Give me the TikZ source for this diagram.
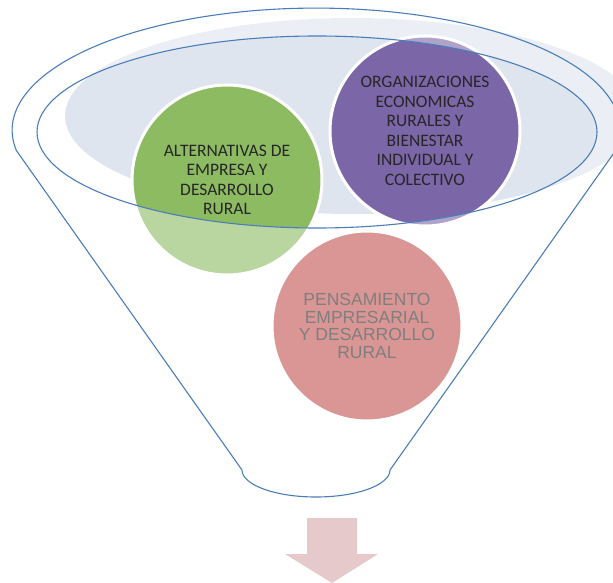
\documentclass[tikz,border=0pt]{standalone}
\usepackage{fontspec}
\newfontfamily\calibf{Carlito}
\newfontfamily\arialf{Liberation Sans}
\definecolor{greyfill}{HTML}{DFE5EF}
\definecolor{greenc}{HTML}{8DBB62}
\definecolor{purplec}{HTML}{7B66A8}
\definecolor{pinkc}{HTML}{D99694}
\definecolor{funnelblue}{HTML}{4A7EBB}
\definecolor{arrowpink}{HTML}{E6C9CB}
\definecolor{darktext}{HTML}{262626}
\definecolor{greytext}{HTML}{7F7F7F}
\tikzset{
  bubble/.style={circle, draw=white, line width=3pt, minimum size=190pt, inner sep=0pt},
  funnelline/.style={draw=funnelblue, line width=1.1pt},
  darklabel/.style={align=center, text=darktext, font=\calibf\fontsize{17.5}{19.5}\selectfont, inner sep=0pt},
  greylabel/.style={align=center, text=greytext, font=\arialf\fontsize{17.5}{17.7}\selectfont, inner sep=0pt}
}
\begin{document}
\begin{tikzpicture}[x=1pt,y=-1pt]
\useasboundingbox (0,0) rectangle (613,583);
% background grey ellipse
\fill[greyfill] (352,116) ellipse[x radius=287pt, y radius=98pt];
% green and purple circles
\node[bubble, fill=greenc] (alt) at (227,180) {};
\node[bubble, fill=purplec] (org) at (425,131) {};
% lighten everything outside the funnel rim
\fill[white, opacity=0.4, even odd rule] (-5,-5) rectangle (620,590) (317,132) ellipse[x radius=280pt, y radius=96pt];
% rim
\draw[funnelline] (317,132) ellipse[x radius=280pt, y radius=96pt];
% funnel outline
\draw[funnelline, line join=round] (16,150) -- (242,470)
  arc[start angle=180, end angle=360, x radius=74pt, y radius=27pt]
  -- (616,150)
  arc[start angle=-9.4, end angle=189.4, x radius=304pt, y radius=122pt] -- cycle;
% pink circle
\node[bubble, fill=pinkc] (pen) at (367,326) {};
% labels
\node[darklabel] (altlabel) at (alt.center) {ALTERNATIVAS DE\\EMPRESA Y\\DESARROLLO\\RURAL};
\node[darklabel] (orglabel) at (org.center) {ORGANIZACIONES\\ECONOMICAS\\RURALES Y\\BIENESTAR\\INDIVIDUAL Y\\COLECTIVO};
\node[greylabel] (penlabel) at (pen.center) {PENSAMIENTO\\EMPRESARIAL\\Y DESARROLLO\\RURAL};
% down arrow
\fill[arrowpink] (307,518) -- (357,518) -- (357,554) -- (378,554) -- (332,583) -- (285,554) -- (307,554) -- cycle;
\end{tikzpicture}
\end{document}
